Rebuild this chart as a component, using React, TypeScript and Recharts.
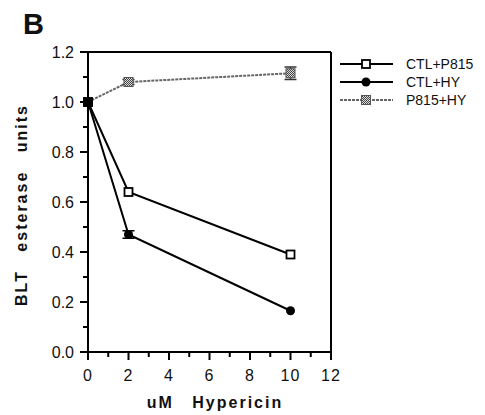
import { LineChart, Line, XAxis, YAxis, ReferenceLine, ErrorBar } from 'recharts'

const doses = [0, 2, 10]
const ctlP815 = [1.0, 0.64, 0.39]
const ctlHy = [1.0, 0.47, 0.165]
const ctlHyErr = [0, 0.015, 0]
const p815Hy = [1.0, 1.08, 1.115]
const p815HyErr = [0, 0.01, 0.025]

const xTicks = [0, 1, 2, 3, 4, 5, 6, 7, 8, 9, 10, 11, 12]
const yTicks = [0, 0.1, 0.2, 0.3, 0.4, 0.5, 0.6, 0.7, 0.8, 0.9, 1.0, 1.1, 1.2]

const data = doses.map((d, i) => ({
  dose: d,
  ctlP815: ctlP815[i],
  ctlHy: ctlHy[i],
  ctlHyErr: ctlHyErr[i],
  p815Hy: p815Hy[i],
  p815HyErr: p815HyErr[i],
}))

const font = 'Liberation Sans, Arial, sans-serif'

const XTick = ({ x, y, payload }: any) => {
  const major = payload.value % 2 === 0
  return (
    <g>
      <line x1={x} y1={y} x2={x} y2={y + (major ? 8 : 5)} stroke="#000" strokeWidth={2} />
      {major && (
        <text x={x} y={y + 29} textAnchor="middle" fontSize={16} fontFamily={font} fill="#111" letterSpacing={1}>
          {payload.value}
        </text>
      )}
    </g>
  )
}

const YTick = ({ x, y, payload }: any) => {
  const v = Math.round(payload.value * 10)
  const major = v % 2 === 0
  return (
    <g>
      <line x1={x} y1={y} x2={x - (major ? 8 : 5)} y2={y} stroke="#000" strokeWidth={2} />
      {major && (
        <text x={x - 14} y={y + 6} textAnchor="end" fontSize={16} fontFamily={font} fill="#111">
          {(v / 10).toFixed(1)}
        </text>
      )}
    </g>
  )
}

const OpenSquare = ({ cx, cy }: any) => (
  <rect x={cx - 4} y={cy - 4} width={8} height={8} fill="#fff" stroke="#000" strokeWidth={1.8} />
)
const Dot = ({ cx, cy }: any) => <circle cx={cx} cy={cy} r={4.5} fill="#000" />
const GraySquare = ({ cx, cy }: any) => (
  <rect x={cx - 4.5} y={cy - 4.5} width={9} height={9} fill="url(#checker)" stroke="#555" strokeWidth={1} />
)

const legendRows = [
  { label: 'CTL+P815', stroke: '#000', dash: undefined as string | undefined, Mark: OpenSquare },
  { label: 'CTL+HY', stroke: '#000', dash: undefined as string | undefined, Mark: Dot },
  { label: 'P815+HY', stroke: '#666', dash: '3 1', Mark: GraySquare },
]

const LegendBox = () => (
  <svg width={140} height={60} style={{ position: 'absolute', left: 340, top: 56 }}>
    {legendRows.map((r, i) => {
      const y = 8 + i * 18
      return (
        <g key={r.label}>
          <line x1={0} y1={y} x2={53} y2={y} stroke={r.stroke} strokeWidth={2} strokeDasharray={r.dash} />
          <r.Mark cx={26} cy={y} />
          <text x={66} y={y + 5} fontSize={14} fontFamily={font} fill="#111">{r.label}</text>
        </g>
      )
    })}
  </svg>
)

export default function App() {
  return (
    <div style={{ position: 'absolute', left: 0, top: 0, width: 485, height: 415, background: '#fff' }}>
      <svg width={0} height={0} style={{ position: 'absolute' }}>
        <defs>
          <pattern id="checker" width={2} height={2} patternUnits="userSpaceOnUse">
            <rect width={2} height={2} fill="#ddd" />
            <rect width={1} height={1} fill="#444" />
            <rect x={1} y={1} width={1} height={1} fill="#444" />
          </pattern>
        </defs>
      </svg>
      <LineChart width={485} height={415} data={data} margin={{ top: 52, right: 154, bottom: 33, left: 48 }}>
        <XAxis
          dataKey="dose"
          type="number"
          domain={[0, 12]}
          ticks={xTicks}
          interval={0}
          height={30}
          tickSize={0}
          tickMargin={0}
          tickLine={false}
          axisLine={{ stroke: '#000', strokeWidth: 2 }}
          tick={<XTick />}
        />
        <YAxis
          type="number"
          domain={[0, 1.2]}
          ticks={yTicks}
          interval={0}
          width={40}
          tickSize={0}
          tickMargin={0}
          tickLine={false}
          axisLine={{ stroke: '#000', strokeWidth: 2 }}
          tick={<YTick />}
        />
        <ReferenceLine y={1.2} stroke="#000" strokeWidth={2} />
        <ReferenceLine x={12} stroke="#000" strokeWidth={2} />
        <Line
          dataKey="p815Hy"
          stroke="#666"
          strokeWidth={2}
          strokeDasharray="3 1"
          dot={<GraySquare />}
          isAnimationActive={false}
        >
          <ErrorBar dataKey="p815HyErr" width={6} stroke="#333" strokeWidth={1.5} direction="y" />
        </Line>
        <Line dataKey="ctlP815" stroke="#000" strokeWidth={2} dot={<OpenSquare />} isAnimationActive={false} />
        <Line dataKey="ctlHy" stroke="#000" strokeWidth={2} dot={<Dot />} isAnimationActive={false}>
          <ErrorBar dataKey="ctlHyErr" width={6} stroke="#000" strokeWidth={1.5} direction="y" />
        </Line>
      </LineChart>
      <LegendBox />
      <div style={{ position: 'absolute', left: 23, top: 8, fontFamily: font, fontWeight: 'bold', fontSize: 29, color: '#111' }}>
        B
      </div>
      <div
        style={{
          position: 'absolute',
          left: 125,
          top: 394,
          width: 180,
          textAlign: 'center',
          fontFamily: font,
          fontWeight: 'bold',
          fontSize: 16,
          letterSpacing: 2,
          wordSpacing: 12,
          color: '#111',
        }}
      >
        uM Hypericin
      </div>
      <div
        style={{
          position: 'absolute',
          left: 22,
          top: 205,
          transform: 'translate(-50%, -50%) rotate(-90deg)',
          whiteSpace: 'nowrap',
          fontFamily: font,
          fontWeight: 'bold',
          fontSize: 16,
          letterSpacing: 2,
          wordSpacing: 12,
          color: '#111',
        }}
      >
        BLT esterase units
      </div>
    </div>
  )
}
